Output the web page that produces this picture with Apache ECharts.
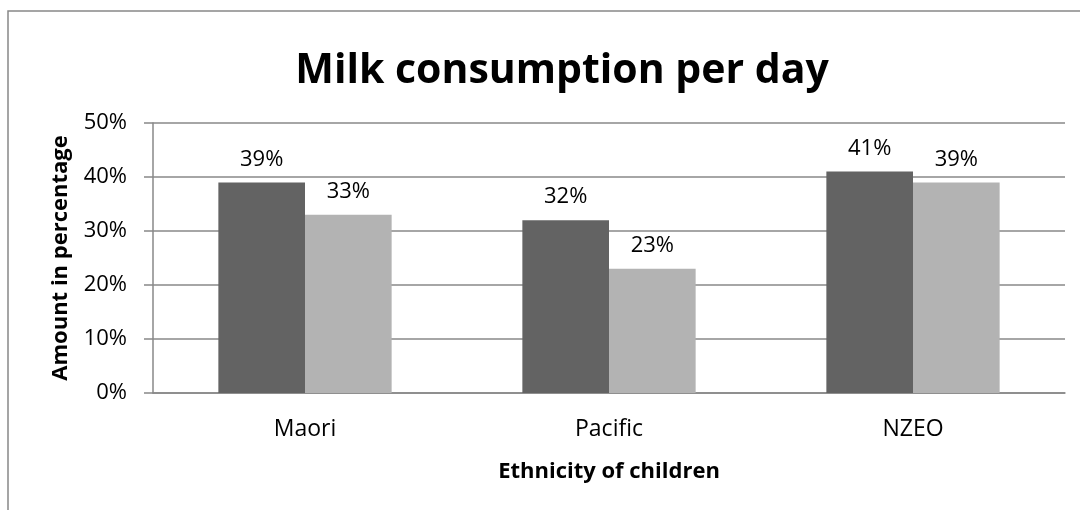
<!DOCTYPE html>
<html>
<head>
<meta charset="utf-8">
<script src="https://cdn.jsdelivr.net/npm/echarts@6/dist/echarts.min.js"></script>
<style>
  html, body { margin: 0; padding: 0; background: #fff; }
  #chart { width: 1080px; height: 510px; }
</style>
</head>
<body>
<div id="chart"></div>
<script>
// Share of children drinking milk daily, by ethnicity
const categories = ['Maori', 'Pacific', 'NZEO'];
const seriesA = [39, 32, 41];
const seriesB = [33, 23, 39];
const yTicks = [0, 10, 20, 30, 40, 50];

const FONT = '"Open Sans", sans-serif';

const chart = echarts.init(document.getElementById('chart'), null, { renderer: 'canvas' });

const labelStyle = {
  show: true,
  position: 'top',
  distance: 12,
  formatter: p => p.value + '%',
  fontFamily: FONT,
  fontSize: 22,
  color: '#000'
};

chart.setOption({
  animation: false,
  backgroundColor: '#fff',
  title: {
    text: 'Milk consumption per day',
    left: 557,
    textAlign: 'center',
    top: 46,
    textStyle: { fontFamily: FONT, fontWeight: 'bold', fontSize: 41, color: '#000' }
  },
  graphic: [{
    type: 'rect',
    shape: { x: 8, y: 11, width: 1100, height: 520 },
    style: { fill: 'none', stroke: '#888', lineWidth: 1.5 },
    silent: true
  }],
  grid: { left: 153, right: 15, top: 123, bottom: 117, containLabel: false },
  xAxis: {
    type: 'category',
    data: categories,
    name: 'Ethnicity of children',
    nameLocation: 'middle',
    nameGap: 68,
    nameTextStyle: { fontFamily: FONT, fontWeight: 'bold', fontSize: 22, color: '#000' },
    axisLine: { lineStyle: { color: '#888', width: 1.5 } },
    axisTick: { show: false },
    axisLabel: { fontFamily: FONT, fontSize: 23, color: '#000', margin: 25 }
  },
  yAxis: {
    type: 'value',
    min: yTicks[0],
    max: yTicks[yTicks.length - 1],
    interval: 10,
    name: 'Amount in percentage',
    nameLocation: 'middle',
    nameGap: 81,
    nameRotate: 90,
    nameTextStyle: { fontFamily: FONT, fontWeight: 'bold', fontSize: 22, color: '#000' },
    axisLine: { show: true, lineStyle: { color: '#888', width: 1.5 } },
    axisTick: { show: true, length: 9, inside: false, lineStyle: { color: '#888', width: 1.5 } },
    splitLine: { lineStyle: { color: '#888', width: 1.5 } },
    axisLabel: { fontFamily: FONT, fontSize: 22, color: '#000', margin: 26, formatter: v => v + '%' }
  },
  series: [
    {
      type: 'bar',
      data: seriesA,
      barGap: '0%',
      barCategoryGap: '43%',
      itemStyle: { color: '#636363' },
      label: labelStyle
    },
    {
      type: 'bar',
      data: seriesB,
      itemStyle: { color: '#b3b3b3' },
      label: labelStyle
    }
  ]
});
</script>
</body>
</html>
